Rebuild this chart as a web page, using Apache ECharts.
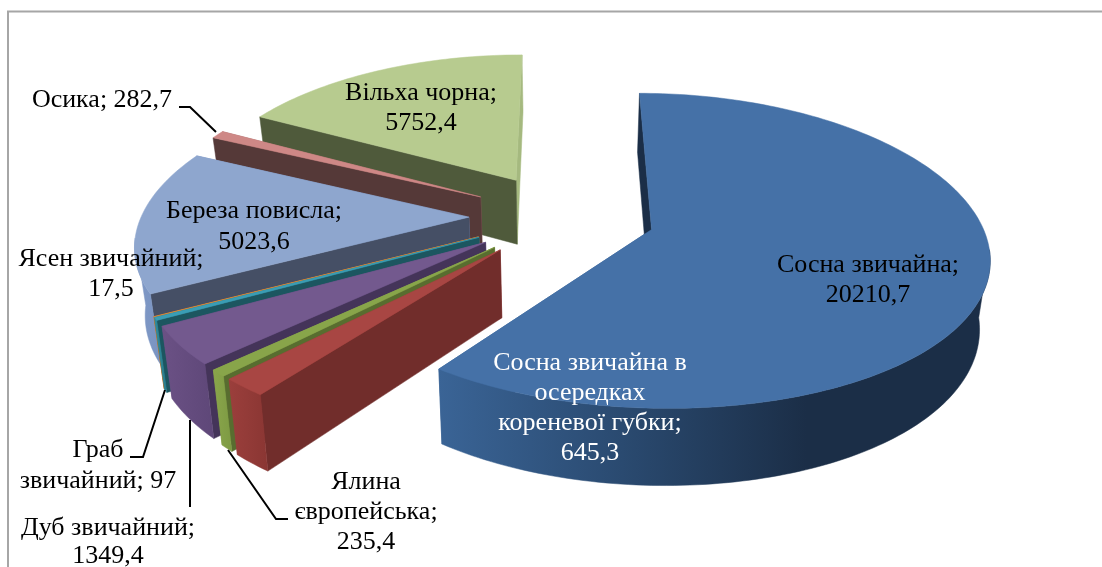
<!DOCTYPE html>
<html>
<head>
<meta charset="utf-8">
<style>
  html, body { margin: 0; padding: 0; background: #fff; overflow: hidden; }
  #chart { width: 1102px; height: 567px; }
</style>
<script src="https://cdn.jsdelivr.net/npm/echarts@6/dist/echarts.min.js"></script>
</head>
<body>
<div id="chart"></div>
<script>
// площі за породами, порядок секторів за годинниковою стрілкою від верху
var categories = ["Сосна звичайна", "Сосна звичайна в осередках кореневої губки", "Ялина європейська", "Дуб звичайний", "Граб звичайний", "Ясен звичайний", "Береза повисла", "Осика", "Вільха чорна"];
var values = [20210.7, 645.3, 235.4, 1349.4, 97, 17.5, 5023.6, 282.7, 5752.4];

var topColors = ["#4571A7", "#A84643", "#88A54A", "#73598E", "#3A9DB5", "#E08D3B", "#8EA6CE", "#CE8886", "#B7CB8F"];
var wallColors = ["#1B2E47", "#712D2B", "#586D2F", "#443459", "#1C5660", "#8F5A27", "#454F65", "#553938", "#4F5A3B"];
var arcColors = [
  ["#3A6496", "#2A4A70", "#1B2E47", "#1B2E47"],
  ["#9B3F3C", "#8A3633"],
  ["#8AA64B", "#7D9A43"],
  ["#6B5185", "#5E4778"],
  ["#2F8A9C", "#2A7C8C"],
  ["#C47A30", "#B06E2A"],
  ["#8099C6", "#7A94C2"],
  ["#A86E6C", "#A06866"],
  ["#A5B97F", "#9DB178"]
];

var labelLines = [
  ["Сосна звичайна;", "20210,7"],
  ["Сосна звичайна в", "осередках", "кореневої губки;", "645,3"],
  ["Ялина", "європейська;", "235,4"],
  ["Дуб звичайний;", "1349,4"],
  ["Граб", "звичайний; 97"],
  ["Ясен звичайний;", "17,5"],
  ["Береза повисла;", "5023,6"],
  ["Осика; 282,7"],
  ["Вільха чорна;", "5752,4"]
];
var labelColors = ["#000", "#fff", "#000", "#000", "#000", "#000", "#000", "#000", "#000"];

// центр першого рядка підпису і крок рядків
var labelAnchors = [[868, 265], [590, 363], [366, 482], [108, 528], [98, 450], [111, 259], [254, 211], [102, 100], [421, 93]];
var lineStep = [30, 30, 30, 28, 31, 30, 31, 30, 30];

var leaders = [
  [[179, 107], [190, 107], [216, 132]],
  [[130, 457], [143, 457], [165, 390]],
  [[190, 420], [190, 507]],
  [[228, 450], [276, 519], [288, 519]]
];

// параметри перспективи
var CX = 562, CY = 216, RX = 327.5, RY = 151, DEPTH = 66, EXPLODE = 0.284, PERSP_X = 6.5, PERSP_Y = 7.5, TAPER = 0.025;

var total = values.reduce(function (a, b) { return a + b; }, 0);

function project(x, y, z) {
  var sx = 1 / (1 - y / PERSP_X), sy = 1 / (1 - y / PERSP_Y);
  return [CX + RX * x * sx * (1 - TAPER * z), CY + RY * y * sy + z * DEPTH * sy];
}

function renderSlice(params, api) {
  var idx = api.value(0);
  var start = 0;
  for (var i = 0; i < idx; i++) start += values[i];
  var a0 = start / total * Math.PI * 2;
  var a1 = (start + values[idx]) / total * Math.PI * 2;
  var mid = (a0 + a1) / 2;
  var ox = EXPLODE * Math.sin(mid), oy = -EXPLODE * Math.cos(mid);

  var rim = [], front = [];
  var steps = Math.max(2, Math.ceil((a1 - a0) / 0.02));
  for (var k = 0; k <= steps; k++) {
    var a = a0 + (a1 - a0) * k / steps;
    var p = [ox + Math.sin(a), oy - Math.cos(a)];
    rim.push(p);
    // задня частина дуги не видна
    if (-Math.cos(a) > 0.12) front.push(p);
  }

  function pt(p, z) { return project(p[0], p[1], z); }
  var apex = [ox, oy];
  var first = rim[0], last = rim[rim.length - 1];

  var rimTop = rim.map(function (p) { return pt(p, 0); });
  var stops = arcColors[idx].map(function (c, n, all) {
    return { offset: n / (all.length - 1), color: c };
  });

  function poly(points, fill) {
    return { type: "polygon", shape: { points: points }, style: { fill: fill, stroke: fill, lineWidth: 0.5 }, silent: true };
  }

  var children = [
    poly([pt(apex, 0), pt(last, 0), pt(last, 1), pt(apex, 1)], arcColors[idx][0]),
    poly([pt(apex, 0), pt(first, 0), pt(first, 1), pt(apex, 1)], wallColors[idx])
  ];
  if (front.length > 1) {
    var frontTop = front.map(function (p) { return pt(p, 0); });
    var frontBottom = front.map(function (p) { return pt(p, 1); }).reverse();
    children.push(poly(frontTop.concat(frontBottom), new echarts.graphic.LinearGradient(0, 0, 1, 0, stops)));
  }
  children.push(poly([pt(apex, 0)].concat(rimTop), topColors[idx]));
  return { type: "group", children: children };
}

var graphics = [
  { type: "rect", shape: { x: 8, y: 11.5, width: 1300, height: 800 }, style: { fill: "#fff", stroke: "#a6a6a6", lineWidth: 2 }, z: 0 }
];
labelLines.forEach(function (lines, i) {
  lines.forEach(function (line, n) {
    graphics.push({
      type: "text",
      z: 100,
      x: labelAnchors[i][0],
      y: labelAnchors[i][1] + n * lineStep[i],
      style: {
        text: line,
        fill: labelColors[i],
        font: '26px "Liberation Serif"',
        textAlign: "center",
        textVerticalAlign: "middle"
      }
    });
  });
});
leaders.forEach(function (points) {
  graphics.push({
    type: "polyline",
    z: 100,
    shape: { points: points },
    style: { stroke: "#000", lineWidth: 2, fill: null }
  });
});

var chart = echarts.init(document.getElementById("chart"));
var rows = categories.map(function (name, i) { return [i, values[i], name]; }).reverse();
chart.setOption({
  animation: false,
  backgroundColor: "#fff",
  graphic: graphics,
  series: [{
    type: "custom",
    coordinateSystem: "none",
    z: 10,
    clip: false,
    encode: { value: 1, itemName: 2 },
    renderItem: renderSlice,
    data: rows
  }]
});
</script>
</body>
</html>
